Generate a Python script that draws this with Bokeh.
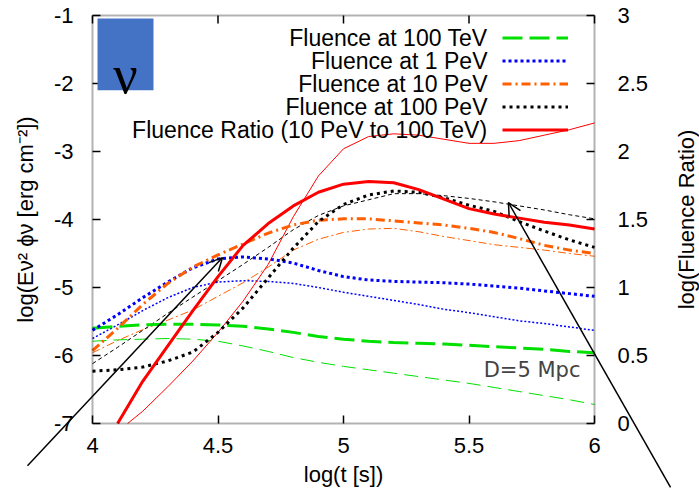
import math
from bokeh.plotting import figure
from bokeh.models import (LinearAxis, Range1d, Legend, LegendItem, Label,
                          BoxAnnotation, Arrow, OpenHead, FixedTicker)
from bokeh.embed import file_html
from bokeh.resources import INLINE

# ---------------- data ----------------
t = [4.0, 4.1, 4.2, 4.3, 4.4, 4.5, 4.6, 4.7, 4.8, 4.9, 5.0,
     5.1, 5.2, 5.3, 5.4, 5.5, 5.6, 5.7, 5.8, 5.9, 6.0]

fl_100tev_thick = [-5.60, -5.57, -5.55, -5.54, -5.54, -5.55, -5.57, -5.61, -5.66, -5.72, -5.76,
                   -5.79, -5.81, -5.82, -5.83, -5.85, -5.87, -5.89, -5.91, -5.94, -5.96]
fl_100tev_thin = [-5.79, -5.77, -5.76, -5.75, -5.76, -5.79, -5.86, -5.94, -6.03, -6.10, -6.16,
                  -6.21, -6.26, -6.31, -6.36, -6.41, -6.47, -6.53, -6.59, -6.65, -6.72]
fl_1pev_thick = [-5.63, -5.40, -5.15, -4.92, -4.71, -4.58, -4.55, -4.58, -4.64, -4.75, -4.84,
                 -4.89, -4.91, -4.92, -4.93, -4.95, -4.98, -5.01, -5.05, -5.09, -5.13]
fl_1pev_thin = [-5.75, -5.55, -5.34, -5.15, -5.00, -4.92, -4.90, -4.91, -4.94, -5.00, -5.07,
                -5.13, -5.19, -5.25, -5.32, -5.37, -5.43, -5.49, -5.53, -5.58, -5.63]
fl_10pev_thick = [-5.93, -5.60, -5.25, -4.94, -4.70, -4.52, -4.36, -4.20, -4.08, -4.01, -3.99,
                  -3.99, -4.02, -4.05, -4.08, -4.13, -4.19, -4.28, -4.38, -4.45, -4.50]
fl_10pev_thin = [-5.96, -5.78, -5.62, -5.48, -5.33, -5.13, -4.93, -4.70, -4.45, -4.29, -4.19,
                 -4.14, -4.13, -4.18, -4.25, -4.31, -4.37, -4.41, -4.45, -4.50, -4.54]
fl_100pev_thick = [-6.23, -6.21, -6.17, -6.08, -5.95, -5.66, -5.30, -4.86, -4.42, -4.03, -3.78,
                   -3.64, -3.58, -3.60, -3.68, -3.79, -3.88, -4.03, -4.17, -4.30, -4.41]
fl_100pev_thin = [-6.12, -5.88, -5.63, -5.38, -5.14, -4.90, -4.66, -4.41, -4.15, -3.94, -3.80,
                  -3.71, -3.62, -3.62, -3.65, -3.69, -3.74, -3.80, -3.86, -3.93, -3.99]

t_ratio_thick = [4.10, 4.2, 4.3, 4.4, 4.5, 4.6, 4.7, 4.8, 4.9, 5.0,
                 5.1, 5.2, 5.3, 5.4, 5.5, 5.6, 5.7, 5.8, 5.9, 6.0]
ratio_thick = [0.00, 0.31, 0.57, 0.83, 1.08, 1.31, 1.47, 1.60, 1.70, 1.76,
               1.78, 1.77, 1.72, 1.65, 1.58, 1.54, 1.51, 1.48, 1.46, 1.43]
t_ratio_thin = [4.14, 4.2, 4.3, 4.4, 4.5, 4.6, 4.7, 4.8, 4.9, 5.0,
                5.1, 5.2, 5.3, 5.4, 5.5, 5.6, 5.7, 5.8, 5.9, 6.0]
ratio_thin = [0.00, 0.09, 0.27, 0.46, 0.67, 0.90, 1.17, 1.52, 1.82, 2.02,
              2.11, 2.13, 2.12, 2.09, 2.06, 2.06, 2.08, 2.12, 2.16, 2.21]

legend_labels = ["Fluence at 100 TeV", "Fluence at 1 PeV", "Fluence at 10 PeV",
                 "Fluence at 100 PeV", "Fluence Ratio (10 PeV to 100 TeV)"]

x_ticks = [4, 4.5, 5, 5.5, 6]
x_tick_labels = ["4", "4.5", "5", "5.5", "6"]
y_ticks = [-7, -6, -5, -4, -3, -2, -1]
y_tick_labels = ["-7", "-6", "-5", "-4", "-3", "-2", "-1"]
y2_ticks = [0, 0.5, 1, 1.5, 2, 2.5, 3]
y2_tick_labels = ["0", "0.5", "1", "1.5", "2", "2.5", "3"]

# arrows: (x_start, y_start, x_end, y_end) in data units of the left axis
arrow1 = (3.741, -7.62, 4.518, -4.56)
arrow2 = (6.303, -7.94, 5.657, -3.75)

# ---------------- layout (pixels inside the canvas) ----------------
W, H = 699, 489
BOX_L, BOX_R, BOX_T, BOX_B = 92, 594, 15, 423   # the plotted box
X0, X1 = x_ticks[0], x_ticks[-1]
Y0, Y1 = y_ticks[0], y_ticks[-1]
R0, R1 = y2_ticks[0], y2_ticks[-1]
sx = (X1 - X0) / (BOX_R - BOX_L)
sy = (Y1 - Y0) / (BOX_B - BOX_T)
x_range = Range1d(X0 - BOX_L * sx, X1 + (W - BOX_R) * sx)
y_range = Range1d(Y0 - (H - BOX_B) * sy, Y1 + BOX_T * sy)
k = (R1 - R0) / (Y1 - Y0)
ratio_range = Range1d(R0 + (y_range.start - Y0) * k, R0 + (y_range.end - Y0) * k)

FONT = "Liberation Sans"
p = figure(width=W, height=H, title=None, min_border=0,
           x_range=x_range, y_range=y_range,
           output_backend="svg", toolbar_location=None,
           x_axis_type=None, y_axis_type=None)
p.extra_y_ranges = {"ratio": ratio_range}
p.grid.visible = False
p.outline_line_color = None
p.background_fill_color = "white"
p.border_fill_color = "white"


def make_axis(ax, ticks, labels):
    ax.ticker = FixedTicker(ticks=ticks)
    ax.major_label_overrides = {tk: lb for tk, lb in zip(ticks, labels)}
    ax.axis_line_color = None
    ax.major_tick_in = 8
    ax.major_tick_out = 0
    ax.major_tick_line_width = 1.5
    ax.minor_tick_line_color = None
    ax.major_label_text_font = FONT
    ax.major_label_text_font_size = "22px"
    ax.major_label_text_color = "black"
    ax.axis_label_text_font = FONT
    ax.axis_label_text_font_size = "22px"
    ax.axis_label_text_font_style = "normal"
    ax.axis_label_text_color = "black"
    return ax


bottom = make_axis(LinearAxis(fixed_location=Y0, bounds=(X0, X1), axis_label="log(t [s])"),
                   x_ticks, x_tick_labels)
bottom.major_label_standoff = 14
bottom.axis_label_standoff = 6
p.add_layout(bottom, "below")

left = make_axis(LinearAxis(fixed_location=X0, bounds=(Y0, Y1),
                            axis_label="log(E\u03bd\u00b2 \u03d5\u03bd [erg cm\u207b\u00b2])"),
                 y_ticks, y_tick_labels)
left.major_label_standoff = 19
left.axis_label_standoff = 13
p.add_layout(left, "left")

right = make_axis(LinearAxis(fixed_location=X1, bounds=(R0, R1), y_range_name="ratio"),
                  y2_ticks, y2_tick_labels)
right.major_label_standoff = 23
p.add_layout(right, "right")

p.add_layout(Label(x=686, y=H - (BOX_T + BOX_B) / 2, x_units="screen", y_units="screen",
                   text="log(Fluence Ratio)", angle=math.pi / 2, text_align="center",
                   text_baseline="middle", text_font=FONT, text_font_size="22px",
                   text_color="black"))

# plotted box outline and the inward ticks on its top edge
p.add_layout(BoxAnnotation(left=X0, right=X1, bottom=Y0, top=Y1, fill_color=None,
                           line_color="black", line_width=2, level="overlay"))
p.ray(x=x_ticks, y=[Y1] * len(x_ticks), length=8, length_units="screen",
      angle=-math.pi / 2, line_color="black", line_width=1.5)

GREEN, BLUE, ORANGE, RED = "#00e000", "#0000ff", "#ff5f00", "#ff0000"

# thin curves
p.line(t, fl_100tev_thin, line_color=GREEN, line_width=1, line_dash="14 7")
p.line(t, fl_1pev_thin, line_color=BLUE, line_width=1.5, line_dash="2 2")
p.line(t, fl_10pev_thin, line_color=ORANGE, line_width=1, line_dash="8 3 2 3")
p.line(t, fl_100pev_thin, line_color="black", line_width=1, line_dash="4 3")
p.line(t_ratio_thin, ratio_thin, y_range_name="ratio", line_color=RED, line_width=1)

# thick curves
r1 = p.line(t, fl_100tev_thick, line_color=GREEN, line_width=3, line_dash="20 7")
r2 = p.line(t, fl_1pev_thick, line_color=BLUE, line_width=3, line_dash="3 3")
r3 = p.line(t, fl_10pev_thick, line_color=ORANGE, line_width=3, line_dash="9 4 2 4")
r4 = p.line(t, fl_100pev_thick, line_color="black", line_width=3, line_dash="3 4")
r5 = p.line(t_ratio_thick, ratio_thick, y_range_name="ratio", line_color=RED, line_width=3)

# legend: line samples on the right, texts right-aligned to their left
LEG_X, LEG_TOP, ROW = 502, 25.5, 23
legend = Legend(items=[LegendItem(label=" ", renderers=[r]) for r in [r1, r2, r3, r4, r5]],
                location=(LEG_X, H - LEG_TOP - ROW * len(legend_labels)),
                glyph_width=66, glyph_height=ROW, label_height=ROW, label_width=0,
                spacing=0, padding=0, margin=0, label_standoff=0,
                label_text_font=FONT, label_text_font_size="22px",
                border_line_color=None, background_fill_alpha=0)
p.add_layout(legend)
for i, lb in enumerate(legend_labels):
    p.add_layout(Label(x=LEG_X - 15, y=H - LEG_TOP - ROW * (i + 0.5),
                       x_units="screen", y_units="screen", text=lb,
                       text_align="right", text_baseline="middle",
                       text_font=FONT, text_font_size="23px", text_color="black"))

# nu box
p.add_layout(BoxAnnotation(left=4.02, right=4.243, top=-1.044, bottom=-2.10,
                           fill_color="#4472C4", fill_alpha=1, line_color=None))
p.add_layout(Label(x=4.131, y=-1.88, text="\u03bd", text_align="center",
                   text_baseline="alphabetic", text_font="Liberation Serif",
                   text_font_size="54px", text_color="black"))

p.add_layout(Label(x=5.944, y=-6.22, text="D=5 Mpc", text_align="right",
                   text_baseline="middle", text_font="DejaVu Sans",
                   text_font_size="21px", text_color="#444444"))

for (xs, ys, xe, ye) in (arrow1, arrow2):
    p.add_layout(Arrow(end=OpenHead(size=13, line_width=1.5, line_color="black"),
                       x_start=xs, y_start=ys, x_end=xe, y_end=ye,
                       line_width=1.5, line_color="black"))

open("out.html", "w").write(file_html(p, INLINE))
